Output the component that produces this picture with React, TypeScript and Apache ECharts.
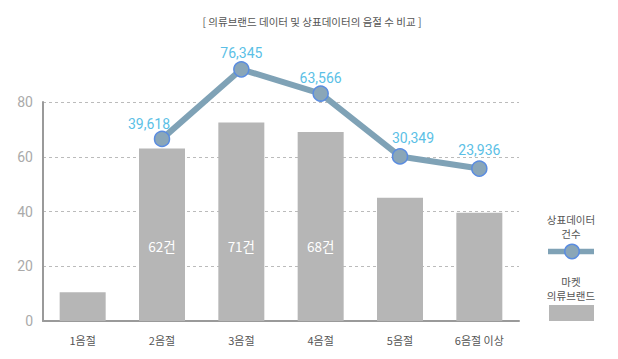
import React, { useEffect, useRef } from "react";
import * as echarts from "echarts";

const title = "[ 의류브랜드 데이터 및 상표데이터의 음절 수 비교 ]";
const categories = ["1음절", "2음절", "3음절", "4음절", "5음절", "6음절 이상"];
const brandValues = [10.5, 63, 72.5, 69, 45, 39.5];
const brandCountLabels = ["", "62건", "71건", "68건", "", ""];
const trademarkCounts = [null, 39618, 76345, 63566, 30349, 23936];
const labelOffsets = [[0, 0], [-13, 3], [0, 2], [0, 3], [13, 0], [0, 0]];
const yTicks = [0, 20, 40, 60, 80];
const legendLineLabel = ["상표데이터", "건수"];
const legendBarLabel = ["마켓", "의류브랜드"];

const LINE_COLOR = "#7fa2b6";
const BAR_COLOR = "#b6b6b6";
const FONT = "'Noto Sans CJK KR', 'Noto Sans', sans-serif";

const legendText = (text: string, y: number) => ({
  type: "text",
  x: 571,
  y,
  style: {
    text,
    textAlign: "center",
    textVerticalAlign: "middle",
    fill: "#555",
    fontSize: 10.5,
    fontFamily: FONT,
  },
});

export default function App() {
  const ref = useRef<HTMLDivElement>(null);
  useEffect(() => {
    if (!ref.current) return;
    const chart = echarts.init(ref.current, undefined, { renderer: "svg" });
    chart.setOption({
      animation: false,
      backgroundColor: "#ffffff",
      textStyle: { fontFamily: FONT },
      title: {
        text: title,
        left: 307,
        top: 11,
        textAlign: "center",
        textStyle: { fontSize: 10.5, fontWeight: "normal", color: "#555", fontFamily: FONT },
      },
      grid: { left: 43, right: 99, top: 102, bottom: 38 },
      xAxis: {
        type: "category",
        data: categories,
        boundaryGap: true,
        axisLine: { lineStyle: { color: "#9a9a9a", width: 2 } },
        axisTick: { show: false },
        axisLabel: { color: "#555", fontSize: 11, margin: 13, fontFamily: FONT },
      },
      yAxis: [
        {
          type: "value",
          min: yTicks[0],
          max: yTicks[yTicks.length - 1],
          interval: 20,
          axisLine: { show: true, lineStyle: { color: "#9a9a9a", width: 2 } },
          axisTick: { show: false },
          axisLabel: { color: "#aaa", fontSize: 14, margin: 10, fontFamily: "Roboto, sans-serif" },
          splitLine: { lineStyle: { color: "#bbb", type: [3, 3], width: 1 } },
        },
        {
          type: "value",
          min: -56600,
          max: 59100,
          show: false,
          splitLine: { show: false },
        },
      ],
      series: [
        {
          type: "bar",
          data: brandValues.map((v, i) => ({
            value: v,
            label: {
              show: brandCountLabels[i] !== "",
              formatter: brandCountLabels[i],
            },
          })),
          barWidth: 46,
          itemStyle: { color: BAR_COLOR },
          label: {
            position: "insideBottom",
            distance: 68,
            color: "#fff",
            fontSize: 13.5,
            fontFamily: FONT,
          },
          z: 2,
        },
        {
          type: "line",
          yAxisIndex: 1,
          clip: false,
          data: trademarkCounts.map((v, i) => ({
            value: v,
            label: { offset: labelOffsets[i] },
          })),
          symbol: "circle",
          symbolSize: 15,
          lineStyle: { color: LINE_COLOR, width: 6 },
          itemStyle: { color: "#8aa6b8", borderColor: "#5a8ce0", borderWidth: 1.5 },
          label: {
            show: true,
            position: "top",
            distance: 3,
            color: "#5bbfe6",
            fontSize: 14,
            fontFamily: "Roboto, sans-serif",
            formatter: (p: any) => (p.value == null ? "" : Number(p.value).toLocaleString("en-US")),
          },
          z: 5,
        },
      ],
      graphic: [
        legendText(legendLineLabel[0], 219),
        legendText(legendLineLabel[1], 233),
        {
          type: "line",
          shape: { x1: 548, y1: 251.5, x2: 594, y2: 251.5 },
          style: { stroke: LINE_COLOR, lineWidth: 5.5 },
        },
        {
          type: "circle",
          shape: { cx: 572, cy: 251.5, r: 7.2 },
          style: { fill: "#8aa6b8", stroke: "#5a8ce0", lineWidth: 1.5 },
        },
        legendText(legendBarLabel[0], 281),
        legendText(legendBarLabel[1], 295),
        {
          type: "rect",
          shape: { x: 549, y: 305, width: 45, height: 16 },
          style: { fill: BAR_COLOR },
        },
      ],
    });
    return () => chart.dispose();
  }, []);
  return <div ref={ref} style={{ width: 618, height: 359, position: "absolute", left: 0, top: 0 }} />;
}
